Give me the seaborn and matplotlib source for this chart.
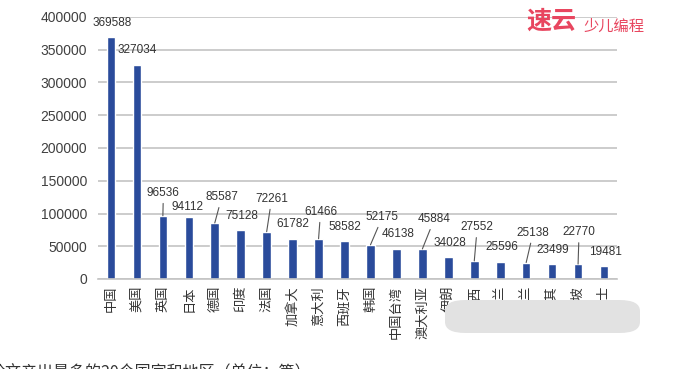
import numpy as np
import pandas as pd
import matplotlib.pyplot as plt
import seaborn as sns
from matplotlib.patches import FancyBboxPatch

# top 20 countries / regions by paper output (unit: papers)
regions = ['中国', '美国', '英国', '日本', '德国', '印度', '法国', '加拿大', '意大利', '西班牙',
           '韩国', '中国台湾', '澳大利亚', '伊朗', '巴西', '荷兰', '波兰', '土耳其', '新加坡', '瑞士']
papers = [369588, 327034, 96536, 94112, 85587, 75128, 72261, 61782, 61466, 58582,
          52175, 46138, 45884, 34028, 27552, 25596, 25138, 23499, 22770, 19481]
yticks = [0, 50000, 100000, 150000, 200000, 250000, 300000, 350000, 400000]
caption = '论文产出最多的20个国家和地区（单位：篇）'

# value label placement, pixels from the bar top, and which ones have a leader line
label_dx = [1, 0.5, 0.5, -1, 7, 1, 5, 0.5, 2, 0, 12, 2, 12, 2, 3, 2, 7, 1, 1, 1]
label_dy = [13.5, 15, 23, 10, 26, 14, 33, 15, 27, 14, 28, 15, 30, 14, 34, 15, 30, 14, 32, 14]
leader = [0, 0, 1, 0, 1, 0, 1, 0, 1, 0, 1, 0, 1, 0, 1, 0, 1, 0, 1, 0]

df = pd.DataFrame({'region': regions, 'papers': papers})

sns.set_theme(style='white')
plt.rcParams['font.family'] = ['Liberation Sans', 'Noto Sans CJK SC', 'DejaVu Sans']

fig = plt.figure(figsize=(6.82, 3.69), dpi=100)
ax = fig.add_axes([98 / 682, 1 - 279 / 369, 519 / 682, 262 / 369])

sns.barplot(data=df, x='region', y='papers', color='#2a4b9b', saturation=1,
            width=0.33, ax=ax)

ax.set_xlim(-0.5, len(regions) - 0.5)
ax.set_ylim(0, 400000)
ax.set_yticks(yticks)
ax.set_yticklabels([str(t) for t in yticks], fontsize=10, color='#404040')
ax.set_xlabel('')
ax.set_ylabel('')
ax.yaxis.grid(True, color='#c4c4c4', lw=1.2)
ax.set_axisbelow(True)
for s in ['left', 'right', 'top']:
    ax.spines[s].set_visible(False)
ax.spines['bottom'].set_color('#c4c4c4')
ax.spines['bottom'].set_linewidth(1.2)
ax.tick_params(axis='y', length=0, pad=8)
ax.tick_params(axis='x', length=0, pad=5)
plt.setp(ax.get_xticklabels(), rotation=90, fontsize=9.5, color='#333333',
         family=['Noto Sans CJK SC', 'DejaVu Sans'])

for i, v in enumerate(papers):
    arrow = dict(arrowstyle='-', color='#555555', lw=0.8, shrinkA=1, shrinkB=0) if leader[i] else None
    ax.annotate(str(v), xy=(i, v), xytext=(label_dx[i], label_dy[i]),
                textcoords='offset pixels', ha='center', va='center',
                fontsize=8.5, color='#333333', arrowprops=arrow)

# blurred patch over the last labels
blur = FancyBboxPatch((445 / 682, 1 - 333 / 369), 195 / 682, 33 / 369,
                      boxstyle='round,pad=0,rounding_size=0.03',
                      transform=fig.transFigure, fc='#e2e2e2', ec='none',
                      clip_on=False, zorder=20)
ax.add_patch(blur)

# watermark
fig.text(526 / 682, 1 - 22 / 369, '速云', color='#e8465f', fontsize=18, fontweight='bold',
         style='italic', va='center', family=['Noto Sans CJK SC'])
fig.text(583 / 682, 1 - 26 / 369, '少儿编程', color='#e8465f', fontsize=11,
         va='center', family=['Noto Sans CJK SC'])

# cut-off caption
fig.text(-11 / 682, 1 - 364 / 369, caption, fontsize=11.5, color='#333333', va='top',
         family=['Noto Sans CJK SC', 'DejaVu Sans'])

plt.savefig('out.png', dpi=100)
